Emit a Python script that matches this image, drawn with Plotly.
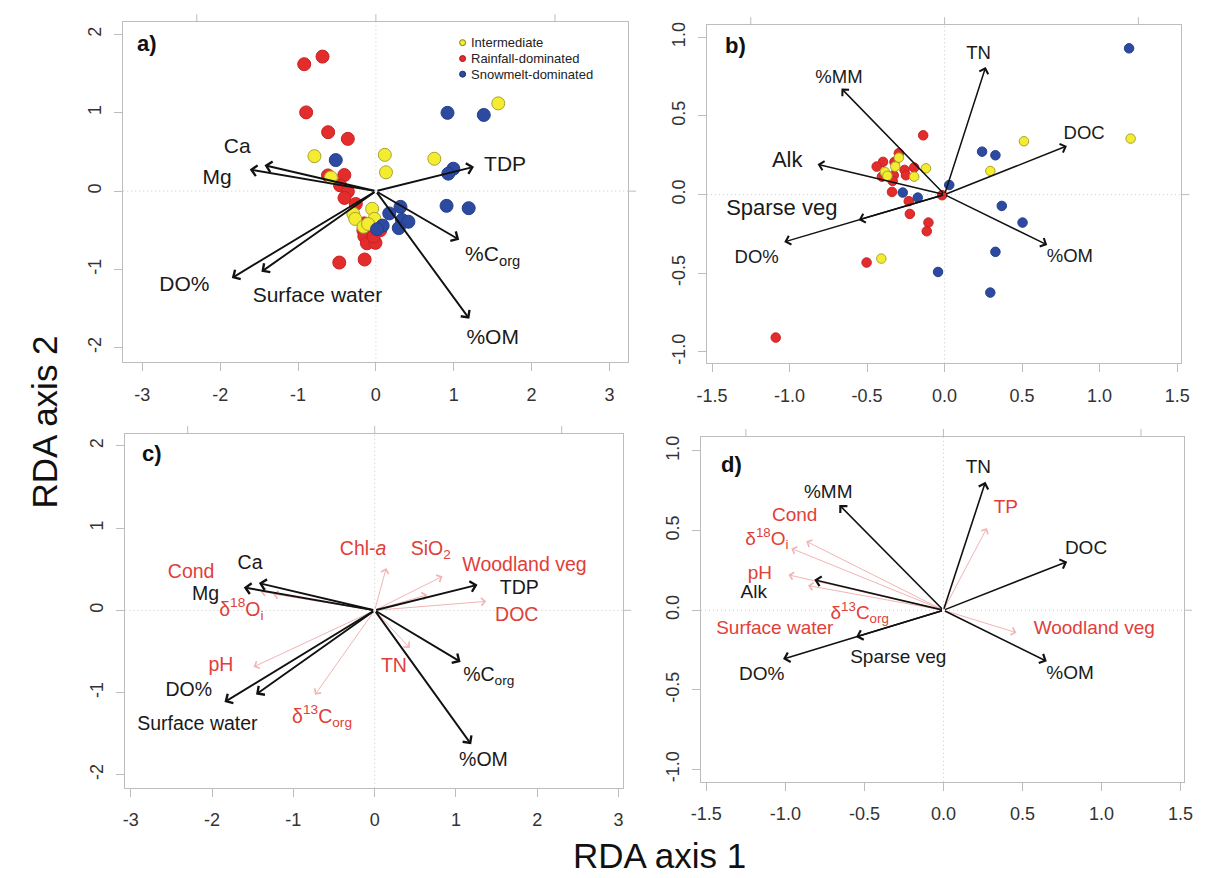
import plotly.graph_objects as go

FONT = "Liberation Sans, Arial, sans-serif"
RED_TXT = "#E0403A"
PINK = "#F2B4B4"
C_INT, C_RAIN, C_SNOW = "#F4EC2E", "#E32C2C", "#2C4AA0"

# ---------------- Panel a: site scores ----------------
a_rain_x = [-0.92, -0.685, -0.895, -0.613, -0.36, -0.615, -0.405, -0.46, -0.36, -0.403, -0.258,
            -0.148, -0.16, -0.148, -0.115, -0.005, 0.058, -0.03, -0.47, -0.144]
a_rain_y = [1.62, 1.717, 1.005, 0.752, 0.667, 0.20, 0.205, 0.074, -0.006, -0.087, -0.165,
            -0.412, -0.50, -0.576, -0.666, -0.66, -0.498, -0.58, -0.912, -0.873]
a_int_x = [-0.789, -0.577, 0.115, 0.13, 0.751, 1.572, -0.048, -0.29, -0.265, -0.018, -0.159, -0.10]
a_int_y = [0.446, 0.175, 0.463, 0.24, 0.413, 1.12, -0.226, -0.29, -0.355, -0.354, -0.455, -0.42]
a_snow_x = [0.92, 1.386, -0.515, 0.995, 0.93, 0.908, 1.192, 0.172, 0.316, 0.336, 0.418, 0.294, 0.087, 0.015]
a_snow_y = [0.999, 0.972, 0.396, 0.286, 0.223, -0.188, -0.218, -0.285, -0.201, -0.368, -0.391, -0.472, -0.44, -0.487]

a_arrow_x = [-1.43, -1.62, 1.26, 1.07, 1.20, -1.85, -1.47]
a_arrow_y = [0.33, 0.275, 0.31, -0.62, -1.63, -1.11, -1.03]
a_lab = ["Ca", "Mg", "TDP", "%C<sub>org</sub>", "%OM", "DO%", "Surface water"]
a_lab_x = [-1.78, -2.04, 1.66, 1.50, 1.50, -2.46, -0.75]
a_lab_y = [0.55, 0.16, 0.33, -0.83, -1.89, -1.21, -1.35]

# ---------------- Panel b ----------------
b_rain_x = [-0.138, -0.295, -0.397, -0.438, -0.323, -0.258, -0.196, -0.249, -0.328, -0.404, -0.335,
            -0.339, -0.231, -0.224, -0.104, -0.115, -0.503, -1.089, -0.016]
b_rain_y = [0.377, 0.263, 0.208, 0.178, 0.208, 0.157, 0.172, 0.123, 0.123, 0.114, 0.087,
            0.017, -0.042, -0.123, -0.178, -0.233, -0.432, -0.909, -0.004]
b_int_x = [-0.295, -0.318, -0.385, -0.369, -0.12, -0.196, 0.295, 0.512, 1.20, -0.408]
b_int_y = [0.235, 0.178, 0.144, 0.119, 0.167, 0.114, 0.15, 0.339, 0.356, -0.407]
b_snow_x = [1.19, 0.242, 0.328, 0.03, -0.27, -0.173, 0.369, 0.503, 0.328, -0.042, 0.295]
b_snow_y = [0.93, 0.273, 0.25, 0.061, 0.013, -0.019, -0.072, -0.178, -0.364, -0.492, -0.623]

b_arrow_x = [-0.665, 0.265, 0.789, -0.819, -0.554, -1.034, 0.662]
b_arrow_y = [0.674, 0.811, 0.309, 0.193, -0.161, -0.301, -0.32]
b_lab = ["%MM", "TN", "DOC", "Alk", "Sparse veg", "DO%", "%OM"]
b_lab_x = [-0.681, 0.219, 0.90, -1.015, -1.05, -1.212, 0.808]
b_lab_y = [0.737, 0.892, 0.383, 0.21, -0.093, -0.405, -0.40]
b_lab_size = [18.5, 18.5, 18.5, 22, 22, 18.5, 18.5]

# ---------------- Panel c ----------------
c_arrow_x = [-1.424, -1.61, 1.265, 1.057, 1.187, -1.847, -1.459]
c_arrow_y = [0.332, 0.279, 0.311, -0.627, -1.63, -1.116, -1.023]
c_sup_x = [0.142, 0.833, 0.647, 1.372, -1.403, -1.25, -1.489, -0.734, 0.432]
c_sup_y = [0.514, 0.413, 0.19, 0.109, 0.23, 0.20, -0.688, -1.027, -0.457]
c_lab_black = ["Ca", "Mg", "TDP", "%C<sub>org</sub>", "%OM", "DO%", "Surface water"]
c_lab_black_x = [-1.532, -2.08, 1.778, 1.403, 1.338, -2.287, -2.18]
c_lab_black_y = [0.566, 0.19, 0.259, -0.801, -1.832, -0.983, -1.395]
c_lab_red = ["Chl-<i>a</i>", "SiO<sub>2</sub>", "Woodland veg", "DOC", "Cond",
             "δ<sup>18</sup>O<sub>i</sub>", "pH", "δ<sup>13</sup>C<sub>org</sub>", "TN"]
c_lab_red_x = [-0.142, 0.69, 1.843, 1.748, -2.257, -1.64, -1.89, -0.647, 0.237]
c_lab_red_y = [0.736, 0.736, 0.534, -0.073, 0.45, -0.004, -0.68, -1.306, -0.688]

# ---------------- Panel d ----------------
d_arrow_x = [0.266, -0.659, 0.783, -0.817, -0.553, -1.015, 0.654]
d_arrow_y = [0.806, 0.661, 0.305, 0.191, -0.168, -0.307, -0.321]
d_sup_x = [0.275, -0.868, -0.963, -0.981, -0.857, 0.462]
d_sup_y = [0.516, 0.433, 0.388, 0.222, 0.155, -0.141]
d_lab_black = ["TN", "%MM", "DOC", "Alk", "Sparse veg", "DO%", "%OM"]
d_lab_black_x = [0.221, -0.729, 0.902, -1.20, -0.286, -1.15, 0.801]
d_lab_black_y = [0.889, 0.734, 0.383, 0.108, -0.30, -0.41, -0.404]
d_lab_red = ["TP", "Cond", "δ<sup>18</sup>O<sub>i</sub>", "pH", "δ<sup>13</sup>C<sub>org</sub>",
             "Surface water", "Woodland veg"]
d_lab_red_x = [0.395, -0.941, -1.117, -1.162, -0.53, -1.067, 0.954]
d_lab_red_y = [0.64, 0.589, 0.439, 0.228, -0.027, -0.12, -0.12]

# axis ticks
big_ticks = [-3, -2, -1, 0, 1, 2, 3]
big_yticks = [-2, -1, 0, 1, 2]
small_ticks = [-1.5, -1.0, -0.5, 0.0, 0.5, 1.0, 1.5]
small_yticks = [-1.0, -0.5, 0.0, 0.5, 1.0]
big_top_ticks = [-2.3, 0, 2.3]
small_top_ticks = [-1.25, 0, 1.25]

legend_names = ["Intermediate", "Rainfall-dominated", "Snowmelt-dominated"]
legend_colors = [C_INT, C_RAIN, C_SNOW]
legend_y = [1.895, 1.692, 1.493]

W, H = 1211, 878
panels = {
    "a": dict(ax="", px=(115, 628), py=(19.3, 361), xr=[-3.245, 3.24], yr=[-2.186, 2.156],
              xt=big_ticks, yt=big_yticks, fmt="d", top=big_top_ticks),
    "b": dict(ax="2", px=(708, 1190), py=(22.3, 362), xr=[-1.533, 1.527], yr=[-1.073, 1.077],
              xt=small_ticks, yt=small_yticks, fmt=".1f", top=small_top_ticks),
    "c": dict(ax="3", px=(117.3, 623), py=(433, 788.3), xr=[-3.065, 3.057], yr=[-2.157, 2.144],
              xt=big_ticks, yt=big_yticks, fmt="d", top=big_top_ticks),
    "d": dict(ax="4", px=(702, 1192.7), py=(436, 782.3), xr=[-1.534, 1.522], yr=[-1.077, 1.0875],
              xt=small_ticks, yt=small_yticks, fmt=".1f", top=small_top_ticks),
}

fig = go.Figure()
layout = dict(width=W, height=H, margin=dict(l=0, r=0, t=0, b=0), paper_bgcolor="white",
              plot_bgcolor="white", showlegend=False, font=dict(family=FONT, color="#222"))
shapes, annotations = [], []

for key, p in panels.items():
    ax = p["ax"]
    xa, ya = "xaxis" + ax, "yaxis" + ax
    xr_, yr_ = "x" + ax, "y" + ax
    fmtf = (lambda v: f"{v:d}") if p["fmt"] == "d" else (lambda v: f"{v:.1f}")
    common = dict(showgrid=False, zeroline=False, showline=True, linecolor="#bdbdbd", linewidth=1,
                  mirror=True, ticks="outside", ticklen=8, tickcolor="#bdbdbd", tickwidth=1,
                  tickfont=dict(size=18, color="#333", family=FONT), fixedrange=True)
    layout[xa] = dict(common, domain=[p["px"][0] / W, p["px"][1] / W], range=p["xr"], anchor=yr_,
                      tickvals=p["xt"], ticktext=[fmtf(v) for v in p["xt"]], ticklabelstandoff=8)
    layout[ya] = dict(common, domain=[1 - p["py"][1] / H, 1 - p["py"][0] / H], range=p["yr"],
                      anchor=xr_, tickvals=p["yt"], ticktext=[fmtf(v) for v in p["yt"]],
                      tickangle=-90, ticklabelstandoff=6)
    # dotted zero lines
    shapes.append(dict(type="line", xref=xr_, yref=yr_ + " domain", x0=0, x1=0, y0=0, y1=1,
                       line=dict(color="#c8c8c8", width=1, dash="1px,3px"), layer="below"))
    shapes.append(dict(type="line", xref=xr_ + " domain", yref=yr_, x0=0, x1=1, y0=0, y1=0,
                       line=dict(color="#c8c8c8", width=1, dash="1px,3px"), layer="below"))
    # top (secondary) ticks
    for tv in p["top"]:
        shapes.append(dict(type="line", xref=xr_, yref=yr_ + " domain", ysizemode="pixel", yanchor=1,
                           x0=tv, x1=tv, y0=0, y1=8, line=dict(color="#bdbdbd", width=1)))
    # right tick at zero
    shapes.append(dict(type="line", xref=xr_ + " domain", yref=yr_, xsizemode="pixel", xanchor=1,
                       x0=0, x1=8, y0=0, y1=0, line=dict(color="#bdbdbd", width=1)))


def pts(x, y, color, size, ax, line_color):
    fig.add_trace(go.Scatter(x=x, y=y, mode="markers", xaxis="x" + ax, yaxis="y" + ax,
                             marker=dict(color=color, size=size,
                                         line=dict(color=line_color, width=1)),
                             hoverinfo="skip"))


def arrows(xs, ys, ax, color, width, size):
    for hx, hy in zip(xs, ys):
        annotations.append(dict(x=hx, y=hy, ax=0, ay=0, xref="x" + ax, yref="y" + ax,
                                axref="x" + ax, ayref="y" + ax, text="", showarrow=True,
                                arrowhead=4, arrowsize=size, arrowwidth=width,
                                arrowcolor=color, standoff=0, startstandoff=0))


def labels(txt, xs, ys, ax, color, size):
    fig.add_trace(go.Scatter(x=xs, y=ys, text=txt, mode="text", xaxis="x" + ax, yaxis="y" + ax,
                             textposition="middle center",
                             textfont=dict(family=FONT, size=size, color=color),
                             hoverinfo="skip"))


# panel a
pts(a_rain_x, a_rain_y, C_RAIN, 13, "", "#c92222")
pts(a_int_x, a_int_y, C_INT, 13, "", "#a8a236")
pts(a_snow_x, a_snow_y, C_SNOW, 13, "", "#243f8c")
arrows(a_arrow_x, a_arrow_y, "", "#111", 1.9, 1.1)
labels(a_lab, a_lab_x, a_lab_y, "", "#1a1a1a", 21)
fig.add_trace(go.Scatter(x=[1.114] * 3, y=legend_y, mode="markers", xaxis="x", yaxis="y",
                         marker=dict(color=legend_colors, size=6,
                                     line=dict(color=["#7d7a20", "#a01818", "#1a2f70"], width=1)),
                         hoverinfo="skip"))
for nm, ly in zip(legend_names, legend_y):
    annotations.append(dict(x=1.20, y=ly, xref="x", yref="y", text=nm, showarrow=False,
                            xanchor="left", yanchor="middle",
                            font=dict(family=FONT, size=13, color="#222")))

# panel b
pts(b_rain_x, b_rain_y, C_RAIN, 9.5, "2", "#c92222")
pts(b_int_x, b_int_y, C_INT, 9.5, "2", "#a8a236")
pts(b_snow_x, b_snow_y, C_SNOW, 9.5, "2", "#243f8c")
arrows(b_arrow_x, b_arrow_y, "2", "#111", 1.5, 1.2)
labels(b_lab, b_lab_x, b_lab_y, "2", "#1a1a1a", b_lab_size)

# panel c
arrows(c_sup_x, c_sup_y, "3", PINK, 1, 1.5)
arrows(c_arrow_x, c_arrow_y, "3", "#111", 1.9, 1.1)
labels(c_lab_black, c_lab_black_x, c_lab_black_y, "3", "#1a1a1a", 19.5)
labels(c_lab_red, c_lab_red_x, c_lab_red_y, "3", RED_TXT, 19.5)

# panel d
arrows(d_sup_x, d_sup_y, "4", PINK, 1, 1.5)
arrows(d_arrow_x, d_arrow_y, "4", "#111", 1.6, 1.2)
labels(d_lab_black, d_lab_black_x, d_lab_black_y, "4", "#1a1a1a", 19)
labels(d_lab_red, d_lab_red_x, d_lab_red_y, "4", RED_TXT, 19)

# panel letters
panel_letters = ["a)", "b)", "c)", "d)"]
letter_axes = ["", "2", "3", "4"]
letter_x = [-2.936, -1.35, -2.74, -1.342]
letter_y = [1.887, 0.945, 1.909, 0.916]
for t, a, lx, ly in zip(panel_letters, letter_axes, letter_x, letter_y):
    annotations.append(dict(x=lx, y=ly, xref="x" + a, yref="y" + a, text="<b>" + t + "</b>",
                            showarrow=False, font=dict(family=FONT, size=22, color="#111")))

# axis titles
annotations.append(dict(x=660 / W, y=1 - 856 / H, xref="paper", yref="paper", text="RDA axis 1",
                        showarrow=False, font=dict(family=FONT, size=35, color="#111"),
                        xanchor="center", yanchor="middle"))
annotations.append(dict(x=35 / W, y=1 - 421 / H, xref="paper", yref="paper", text="RDA axis 2",
                        showarrow=False, textangle=-90, font=dict(family=FONT, size=35, color="#111"),
                        xanchor="center", yanchor="middle"))

layout["shapes"] = shapes
layout["annotations"] = annotations
fig.update_layout(**layout)
fig.write_html("out.html")
